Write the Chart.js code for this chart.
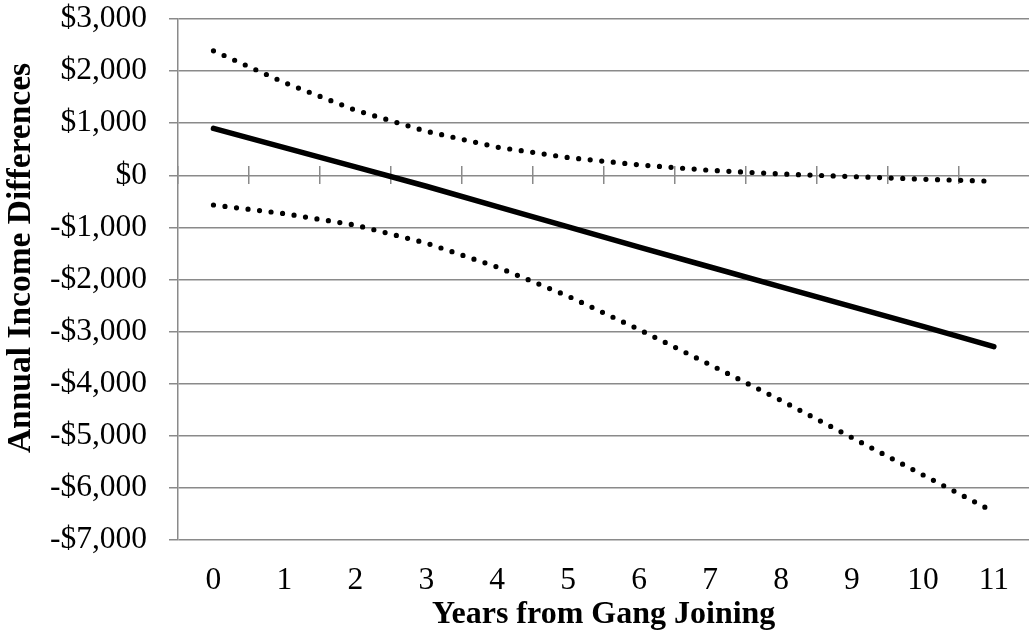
<!DOCTYPE html>
<html>
<head>
<meta charset="utf-8">
<script src="https://cdn.jsdelivr.net/npm/chart.js@4/dist/chart.umd.min.js"></script>
<style>
  html, body { margin: 0; padding: 0; background: #fff; overflow: hidden; }
  #wrap { width: 1029px; height: 634px; overflow: hidden; }
</style>
</head>
<body>
<div id="wrap"><canvas id="c" width="1031" height="634"></canvas></div>
<script>
// Data
const years = ['0', '1', '2', '3', '4', '5', '6', '7', '8', '9', '10', '11'];
const estimate = [900, 530, 160, -210, -600, -990, -1380, -1760, -2140, -2520, -2900, -3290];
const upperBound = [2390, 1780, 1250, 845, 540, 340, 200, 95, 25, -25, -75, -115];
const lowerBound = [-570, -736, -955, -1300, -1760, -2320, -2960, -3635, -4320, -5035, -5750, -6460];
const yMin = -7000;
const yMax = 3000;
const yStep = 1000;
const xTitle = 'Years from Gang Joining';
const yTitle = 'Annual Income Differences';

const serif = "'Liberation Serif', 'Times New Roman', Times, serif";
const gridGray = '#8a8a8a';

function money(v) {
  return (v < 0 ? '-$' : '$') + Math.abs(v).toLocaleString('en-US');
}

// draws the y-axis title (real text) slightly above the plot centre, as in the reference
const yTitlePlugin = {
  id: 'yTitlePlugin',
  afterDraw(chart) {
    const ctx = chart.ctx;
    ctx.save();
    ctx.translate(21, 258);
    ctx.rotate(-Math.PI / 2);
    ctx.font = "bold 33.5px " + serif;
    ctx.fillStyle = '#000';
    ctx.textAlign = 'center';
    ctx.textBaseline = 'middle';
    ctx.fillText(yTitle, 0, 0);
    ctx.restore();
  }
};

new Chart(document.getElementById('c'), {
  type: 'line',
  data: {
    labels: years,
    datasets: [
      {
        label: 'Estimate',
        data: estimate,
        borderColor: '#000',
        borderWidth: 5.5,
        borderCapStyle: 'round',
        pointRadius: 0,
        tension: 0,
        fill: false
      },
      {
        label: 'Upper bound',
        data: upperBound,
        borderColor: '#000',
        borderWidth: 5.2,
        borderDash: [0, 11.6],
        borderCapStyle: 'round',
        pointRadius: 0,
        tension: 0,
        fill: false
      },
      {
        label: 'Lower bound',
        data: lowerBound,
        borderColor: '#000',
        borderWidth: 5.2,
        borderDash: [0, 11.6],
        borderCapStyle: 'round',
        pointRadius: 0,
        tension: 0,
        fill: false
      }
    ]
  },
  plugins: [yTitlePlugin],
  options: {
    responsive: false,
    animation: false,
    devicePixelRatio: 1,
    layout: { padding: { left: 0, right: 0, top: 0, bottom: 0 } },
    plugins: { legend: { display: false }, tooltip: { enabled: false } },
    scales: {
      x: {
        type: 'category',
        position: 'bottom',
        offset: true,
        border: { display: false },
        grid: { display: false, drawTicks: false },
        ticks: {
          color: '#000',
          padding: 22,
          maxRotation: 0,
          font: { family: serif, size: 31.5 }
        },
        title: {
          display: true,
          text: xTitle,
          color: '#000',
          padding: { top: 0, bottom: 0 },
          font: { family: serif, size: 32, weight: 'bold' }
        },
        afterFit: (s) => { s.height = 94; }
      },
      xt: {
        type: 'category',
        position: { y: 173 },
        offset: true,
        border: { display: false },
        grid: {
          offset: true,
          drawOnChartArea: false,
          drawTicks: true,
          tickLength: 18,
          color: gridGray,
          lineWidth: 1.5
        },
        ticks: { display: false }
      },
      y: {
        type: 'linear',
        min: yMin,
        max: yMax,
        border: { display: true, color: gridGray, width: 1.5 },
        grid: { color: gridGray, lineWidth: 1.5, drawTicks: true, tickLength: 9 },
        ticks: {
          stepSize: yStep,
          color: '#000',
          padding: 22,
          font: { family: serif, size: 31.5 },
          callback: (v) => money(v)
        },
        title: { display: false, text: yTitle },
        afterFit: (s) => { s.width = 178; s.paddingTop = 19; s.paddingBottom = 0; }
      }
    }
  }
});
</script>
</body>
</html>
